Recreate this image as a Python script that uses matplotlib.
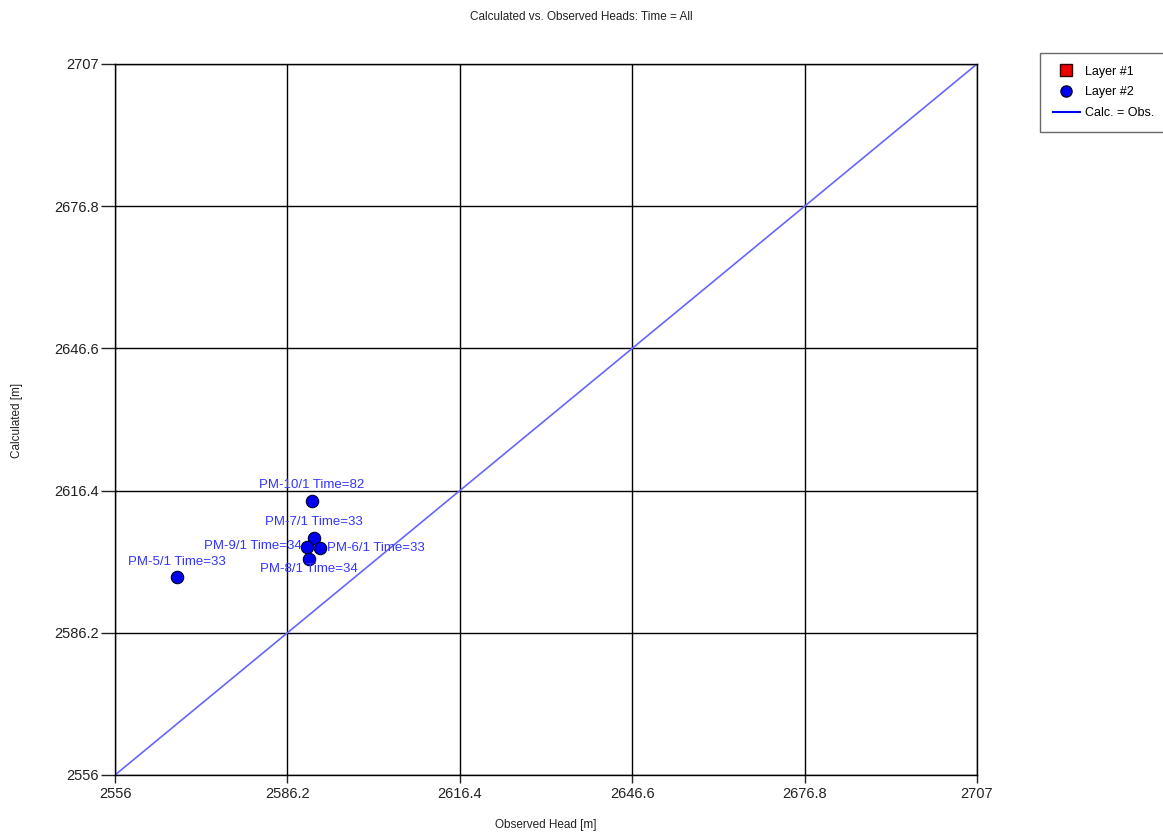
import matplotlib
matplotlib.use("Agg")
import matplotlib.pyplot as plt
from matplotlib.lines import Line2D

plt.rcParams["font.family"] = ["Liberation Sans", "DejaVu Sans"]

# observed vs calculated heads (Layer #2 wells)
labels = ["PM-10/1 Time=82", "PM-7/1 Time=33", "PM-9/1 Time=34",
          "PM-6/1 Time=33", "PM-8/1 Time=34", "PM-5/1 Time=33"]
observed = [2590.5, 2590.9, 2589.6, 2591.9, 2590.0, 2566.9]
calculated = [2614.2, 2606.3, 2604.4, 2604.2, 2601.9, 2598.0]
label_offsets = [(0, 7), (0, 7), (-4, 1), (5, 0), (0, -3), (0, 7)]
label_align = [("center", "bottom"), ("center", "bottom"), ("right", "center"),
               ("left", "center"), ("center", "top"), ("center", "bottom")]

ticks = [2556, 2586.2, 2616.4, 2646.6, 2676.8, 2707]
tick_labels = ["2556", "2586.2", "2616.4", "2646.6", "2676.8", "2707"]

W, H = 1163, 833
fig = plt.figure(figsize=(W / 100, H / 100), dpi=100)
ax = fig.add_axes([115 / W, 1 - 775 / H, 862 / W, 711 / H])

ax.plot([ticks[0], ticks[-1]], [ticks[0], ticks[-1]], color="#6666ff", linewidth=1.2, zorder=2)
ax.scatter(observed, calculated, s=80, c="#0000ee", edgecolors="#000033", linewidths=0.8, zorder=4)
for lab, xo, yo, off, (ha, va) in zip(labels, observed, calculated, label_offsets, label_align):
    ax.annotate(lab, (xo, yo), xytext=off, textcoords="offset points", ha=ha, va=va,
                fontsize=9.5, color="#3333ff", zorder=5)

ax.set_xlim(ticks[0], ticks[-1])
ax.set_ylim(ticks[0], ticks[-1])
ax.set_xticks(ticks)
ax.set_xticklabels(tick_labels)
ax.set_yticks(ticks)
ax.set_yticklabels(tick_labels)
ax.tick_params(labelsize=10.5, width=1.0, color="#222222", labelcolor="#222222")
ax.tick_params(axis="y", length=10, pad=1.5)
ax.tick_params(axis="x", length=6, pad=3)
ax.grid(True, color="black", linewidth=1.0, zorder=1)
ax.set_axisbelow(True)
for sp in ax.spines.values():
    sp.set_linewidth(1.0)

# axis titles placed in figure space like the source program
fig.text(546 / W, 1 - 825 / H, "Observed Head [m]", ha="center", va="center",
         fontsize=8.5, color="#222222")
fig.text(17 / W, 1 - 420 / H, "Calculated [m]", ha="center", va="center", rotation=90,
         fontsize=8.5, color="#222222")
fig.text(0.5, 1 - 17 / H, "Calculated vs. Observed Heads: Time = All", ha="center", va="center",
         fontsize=8.5, color="#222222")

handles = [
    Line2D([], [], marker="s", linestyle="none", markersize=8, markerfacecolor="#ee0000", markeredgecolor="#330000"),
    Line2D([], [], marker="o", linestyle="none", markersize=8, markerfacecolor="#0000ee", markeredgecolor="#000033"),
    Line2D([], [], color="#0000ee", linewidth=1.5),
]
leg = fig.legend(handles, ["Layer #1", "Layer #2", "Calc. = Obs."], loc="upper left",
                 bbox_to_anchor=(1040 / W, 1 - 53 / H - 0.01, 0.2, 0.01), mode="expand",
                 fontsize=9, frameon=True, fancybox=False, handlelength=2.2,
                 borderpad=1.0, labelspacing=0.7, handletextpad=0.4, borderaxespad=0)
leg.get_frame().set_edgecolor("#444444")
leg.get_frame().set_linewidth(1.0)

fig.savefig("out.png")
